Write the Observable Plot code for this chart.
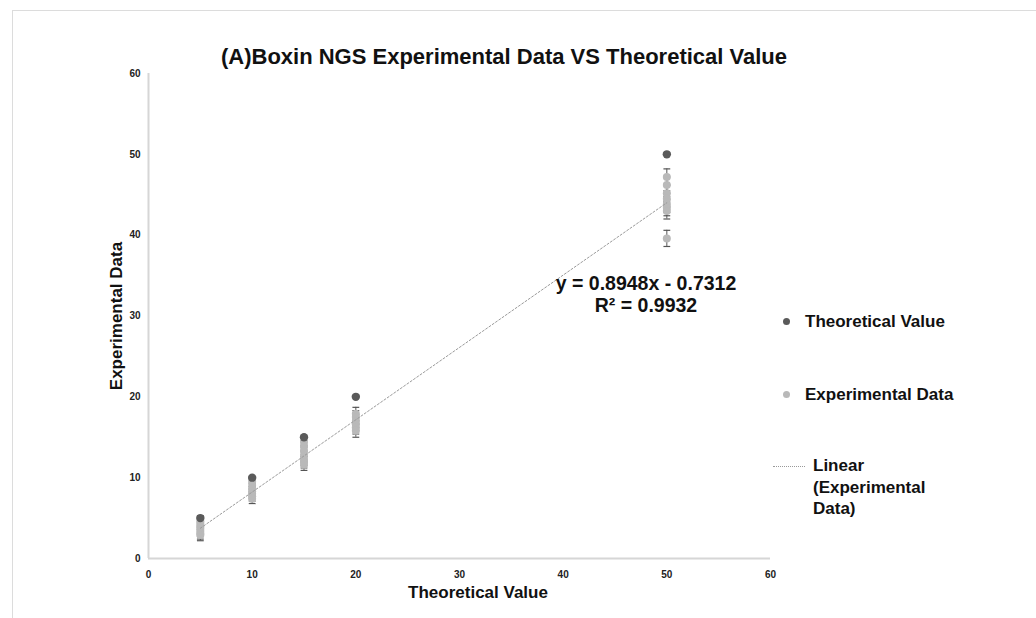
<!DOCTYPE html>
<html>
<head>
<meta charset="utf-8">
<script src="https://cdn.jsdelivr.net/npm/d3@7"></script>
<script src="https://cdn.jsdelivr.net/npm/@observablehq/plot@0.6"></script>
<style>
  html, body { margin: 0; padding: 0; background: #fff; }
  body { font-family: "Liberation Sans", Arial, Helvetica, sans-serif; }
  #wrap { position: relative; width: 1036px; height: 618px; overflow: hidden; }
  #frame { position: absolute; left: 12px; top: 10px; width: 1040px; height: 620px; border: 1px solid #dcdcdc; box-sizing: border-box; }
  #chart { position: absolute; left: 0; top: 0; }
  .t { position: absolute; font-weight: bold; color: #111; white-space: nowrap; }
  #title { font-size: 22px; left: 504px; top: 57px; transform: translate(-50%, -50%); }
  #xlabel { font-size: 17px; left: 478px; top: 593px; transform: translate(-50%, -50%); }
  #ylabel { font-size: 17px; left: 117px; top: 316px; transform: translate(-50%, -50%) rotate(-90deg); }
  #eq { font-size: 19.5px; left: 646px; top: 294px; transform: translate(-50%, -50%); text-align: center; line-height: 22px; }
  .leg { position: absolute; font-size: 17px; font-weight: bold; color: #111; line-height: 21.5px; }
  .sw { position: absolute; width: 7px; height: 7px; border-radius: 50%; }
  .dash { position: absolute; width: 32px; height: 0; border-top: 1px dotted #999; }
  #chart g[aria-label="x-axis tick label"] text, #chart g[aria-label="y-axis tick label"] text { font-weight: bold; }
</style>
</head>
<body>
<div id="wrap">
  <div id="frame"></div>
  <div id="chart"></div>
</div>
<script>
// ---- data ----
const xTicks = [0, 10, 20, 30, 40, 50, 60];
const yTicks = [0, 10, 20, 30, 40, 50, 60];
const theoreticalX = [5, 10, 15, 20, 50];
const theoreticalY = [5, 10, 15, 20, 50];
const exp5  = [4.6, 4.3, 4.0, 3.7, 3.4, 3.1, 2.9];
const exp10 = [9.5, 9.1, 8.7, 8.3, 8.0, 7.7, 7.4];
const exp15 = [14.4, 13.9, 13.3, 12.7, 12.2, 11.9, 11.6];
const exp20 = [17.9, 17.5, 17.0, 16.6, 16.2, 15.8];
const exp50 = [47.2, 46.2, 45.2, 44.5, 43.8, 43.4, 43.0, 39.6];
const expGroups = [exp5, exp10, exp15, exp20, exp50];
const expError = [0.7, 0.6, 0.7, 0.8, 1.0];
const trendSlope = 0.8948;
const trendIntercept = -0.7312;
const trendR2 = 0.9932;
const trendX = [5, 50];
const seriesNames = ["Theoretical Value", "Experimental Data", "Linear (Experimental Data)"];

// ---- build tables ----
const theo = theoreticalX.map((x, i) => ({x, y: theoreticalY[i]}));
const exp = [];
expGroups.forEach((g, i) => g.forEach(v => exp.push({x: theoreticalX[i], y: v, lo: v - expError[i], hi: v + expError[i]})));
const trend = trendX.map(x => ({x, y: trendSlope * x + trendIntercept}));

const darkColor = "#5a5a5a";
const lightColor = "#b9b9b9";
const capSymbol = {
  draw(ctx, size) {
    const w = Math.sqrt(size) * 0.55;
    ctx.moveTo(-w, 0);
    ctx.lineTo(w, 0);
  }
};

const chart = Plot.plot({
  width: 1036,
  height: 618,
  marginLeft: 148,
  marginRight: 266,
  marginTop: 73,
  marginBottom: 60,
  style: {background: "transparent", fontFamily: "Liberation Sans, Arial, sans-serif", color: "#222"},
  x: {domain: [0, 60]},
  y: {domain: [0, 60]},
  marks: [
    Plot.ruleY([0], {stroke: "#d6d6d6", strokeWidth: 2}),
    Plot.ruleX([0], {stroke: "#d6d6d6", strokeWidth: 2}),
    Plot.axisX({ticks: xTicks, tickSize: 0, tickPadding: 12, fontSize: 10, label: null, fill: "#222"}),
    Plot.axisY({ticks: yTicks, tickSize: 0, tickPadding: 8, fontSize: 10, label: null, fill: "#222"}),
    Plot.ruleX(exp, {x: "x", y1: "lo", y2: "hi", stroke: "#555", strokeWidth: 1}),
    Plot.dot(exp, {x: "x", y: "lo", symbol: capSymbol, r: 3.5, stroke: "#555", strokeWidth: 1.2, fill: "none"}),
    Plot.dot(exp, {x: "x", y: "hi", symbol: capSymbol, r: 3.5, stroke: "#555", strokeWidth: 1.2, fill: "none"}),
    Plot.dot(exp, {x: "x", y: "y", r: 4, fill: lightColor}),
    Plot.dot(theo, {x: "x", y: "y", r: 4.2, fill: darkColor}),
    Plot.line(trend, {x: "x", y: "y", stroke: "#9a9a9a", strokeWidth: 1, strokeDasharray: "2,2"})
  ]
});
document.getElementById("chart").appendChild(chart);

// ---- text overlays ----
const wrap = document.getElementById("wrap");
function add(html, cls, id, style) {
  const d = document.createElement("div");
  d.className = cls;
  if (id) d.id = id;
  d.innerHTML = html;
  if (style) Object.assign(d.style, style);
  wrap.appendChild(d);
  return d;
}
add("(A)Boxin NGS Experimental Data VS Theoretical Value", "t", "title");
add("Theoretical Value", "t", "xlabel");
add("Experimental Data", "t", "ylabel");
add(`y = ${trendSlope}x - ${Math.abs(trendIntercept)}<br>R² = ${trendR2}`, "t", "eq");

add("", "sw", null, {left: "783px", top: "318px", background: darkColor});
add(seriesNames[0], "leg", null, {left: "805px", top: "311px"});
add("", "sw", null, {left: "783px", top: "391px", background: lightColor});
add(seriesNames[1], "leg", null, {left: "805px", top: "384px"});
add("", "dash", null, {left: "773px", top: "466px"});
add("Linear<br>(Experimental<br>Data)", "leg", null, {left: "813px", top: "455px"});
</script>
</body>
</html>
